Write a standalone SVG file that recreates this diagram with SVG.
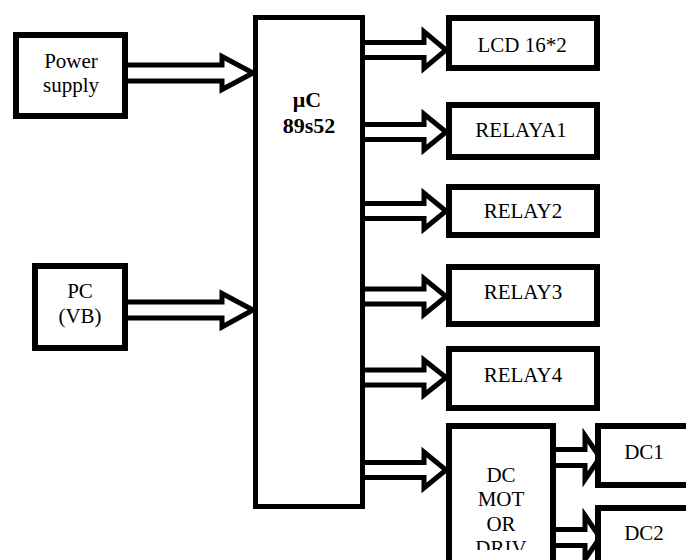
<svg xmlns="http://www.w3.org/2000/svg" width="686" height="560" viewBox="0 0 686 560">
<style>
.box{fill:#fff;stroke:#000;stroke-width:6}
.mc{fill:#fff;stroke:#000;stroke-width:5}
.arr{fill:#fff;stroke:#000;stroke-width:5;stroke-linejoin:miter;stroke-miterlimit:10}
text{font-family:"Liberation Serif","Times New Roman",serif;font-size:21px;fill:#000;text-anchor:middle}
.b{font-weight:bold;font-size:22px}
</style>
<defs>
<clipPath id="clipDrv"><rect x="449" y="426" width="104" height="124"/></clipPath>
</defs>
<rect width="686" height="560" fill="#fff"/>
<g id="connectors">
<path class="arr" d="M125,65 H222 V56.5 L253,73 L222,89.5 V81 H125"/>
<path class="arr" d="M125,302 H222 V293.5 L253,310 L222,327 V318 H125"/>
<path class="arr" d="M362,42.5 H424 V31.5 L446,50 L424,68.5 V57.5 H362"/>
<path class="arr" d="M362,124.5 H424 V114 L446,132 L424,150 V139.5 H362"/>
<path class="arr" d="M362,203.5 H424 V193 L446,211 L424,229 V218.5 H362"/>
<path class="arr" d="M362,289 H424 V278.5 L446,296.5 L424,314.5 V304 H362"/>
<path class="arr" d="M362,370 H424 V360 L446,377.5 L424,395 V385 H362"/>
<path class="arr" d="M362,462.5 H424 V452 L446,470 L424,488 V477.5 H362"/>
<path class="arr" d="M553,449.5 H585 V435.5 L600,457.5 L585,479.5 V465.5 H553"/>
<path class="arr" d="M553,529.5 H585 V515.5 L600,537.5 L585,559.5 V545.5 H553"/>
</g>
<g id="power">
<rect class="box" x="16" y="35" width="109" height="81"/>
<text x="71" y="68">Power</text>
<text x="71" y="92">supply</text>
</g>
<g id="pc">
<rect class="box" x="35" y="266" width="90" height="82"/>
<text x="80" y="298">PC</text>
<text x="80" y="323">(VB)</text>
</g>
<g id="uc">
<rect class="mc" x="255.5" y="17.5" width="107" height="489"/>
<text class="b" x="307" y="107">μC</text>
<text class="b" x="309" y="133">89s52</text>
</g>
<g id="lcd">
<rect class="box" x="449" y="18" width="148" height="50"/>
<text x="522" y="52">LCD 16*2</text>
</g>
<g id="relaya1">
<rect class="box" x="449" y="105" width="148" height="52"/>
<text x="521" y="137">RELAYA1</text>
</g>
<g id="relay2">
<rect class="box" x="449" y="187" width="148" height="48"/>
<text x="523" y="218">RELAY2</text>
</g>
<g id="relay3">
<rect class="box" x="449" y="267" width="148" height="57"/>
<text x="523" y="299">RELAY3</text>
</g>
<g id="relay4">
<rect class="box" x="449" y="349" width="148" height="59"/>
<text x="523" y="382">RELAY4</text>
</g>
<g id="driver">
<rect class="box" x="449" y="426" width="104" height="200"/>
<g clip-path="url(#clipDrv)">
<text x="501" y="482">DC</text>
<text x="501" y="506">MOT</text>
<text x="501" y="531">OR</text>
<text x="501" y="555">DRIV</text>
</g>
</g>
<g id="dc1">
<rect class="box" x="598" y="426" width="200" height="59"/>
<text x="644" y="459">DC1</text>
</g>
<g id="dc2">
<rect class="box" x="598" y="508" width="200" height="100"/>
<text x="644" y="540">DC2</text>
</g>
</svg>
